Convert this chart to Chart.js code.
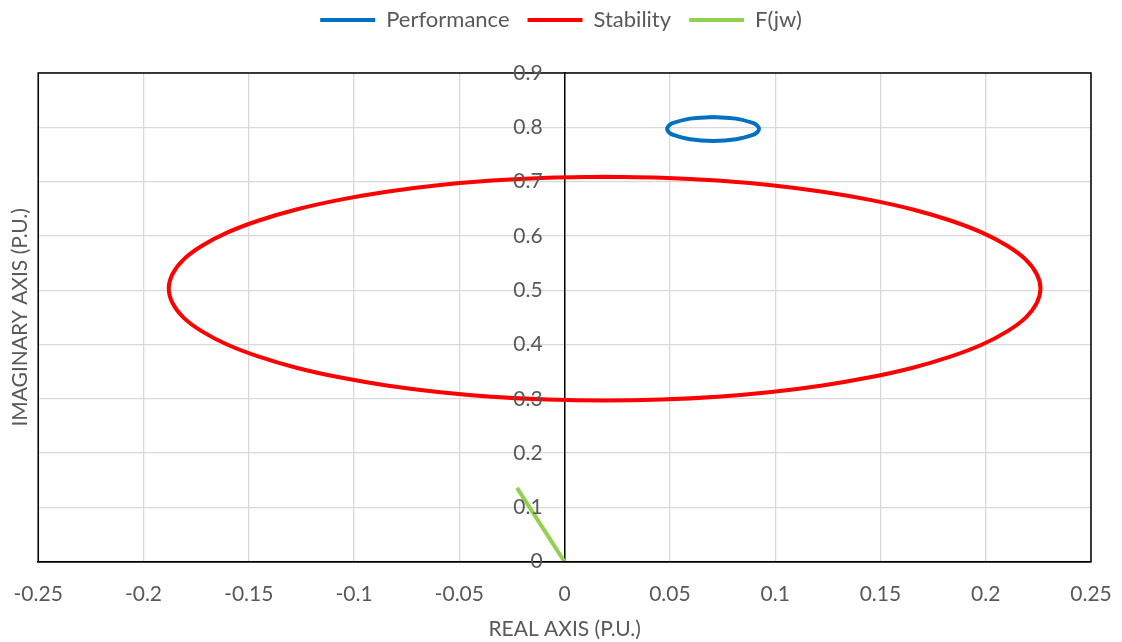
<!DOCTYPE html>
<html>
<head>
<meta charset="utf-8">
<script src="https://cdn.jsdelivr.net/npm/chart.js@4"></script>
<style>
html,body{margin:0;padding:0;background:#fff;}
#wrap{width:1122px;height:642px;}
</style>
</head>
<body>
<div id="wrap"><canvas id="c" width="1122" height="642"></canvas></div>
<script>
// Series values
const performancePoints = [
  [0.0705,0.819],[0.0596,0.816],[0.0516,0.808],[0.0494,0.8027],[0.0487,0.797],[0.0494,0.7913],
  [0.0516,0.786],[0.0596,0.778],[0.0705,0.775],[0.0814,0.778],[0.0894,0.786],[0.0916,0.7913],
  [0.0923,0.797],[0.0916,0.8027],[0.0894,0.808],[0.0814,0.816],[0.0705,0.819]
];
const stabilityPoints = [
  [0.019,0.709],[-0.0080,0.7072],[-0.0346,0.702],[-0.0602,0.6933],[-0.0845,0.6814],[-0.1070,0.6664],
  [-0.1274,0.6487],[-0.1452,0.6284],[-0.1603,0.606],[-0.1722,0.5818],[-0.181,0.5564],[-0.1862,0.5299],
  [-0.188,0.503],[-0.1862,0.4761],[-0.181,0.4496],[-0.1722,0.4242],[-0.1603,0.400],[-0.1452,0.3776],
  [-0.1274,0.3573],[-0.1070,0.3396],[-0.0845,0.3246],[-0.0602,0.3127],[-0.0346,0.304],[-0.0080,0.2988],
  [0.019,0.297],[0.0460,0.2988],[0.0726,0.304],[0.0982,0.3127],[0.1225,0.3246],[0.1450,0.3396],
  [0.1654,0.3573],[0.1832,0.3776],[0.1983,0.400],[0.2102,0.4242],[0.219,0.4496],[0.2242,0.4761],
  [0.226,0.503],[0.2242,0.5299],[0.219,0.5564],[0.2102,0.5818],[0.1983,0.606],[0.1832,0.6284],
  [0.1654,0.6487],[0.1450,0.6664],[0.1225,0.6814],[0.0982,0.6933],[0.0726,0.702],[0.0460,0.7072],
  [0.019,0.709]
];
const fjwPoints = [[-0.0226,0.136],[-0.0113,0.068],[0,0]];
const seriesNames = ['Performance','Stability','F(jw)'];
const seriesColors = ['#0070C0','#FF0000','#92D050'];
const xTicks = [-0.25,-0.2,-0.15,-0.1,-0.05,0,0.05,0.1,0.15,0.2,0.25];
const yTicks = [0,0.1,0.2,0.3,0.4,0.5,0.6,0.7,0.8,0.9];
const xTitle = 'REAL AXIS (P.U.)';
const yTitle = 'IMAGINARY AXIS (P.U.)';

const FONT = 'Lato';
const TXT = '#595959';
const toXY = arr => arr.map(p => ({x:p[0], y:p[1]}));
const allSeries = [performancePoints, stabilityPoints, fjwPoints];

const borderPlugin = {
  id:'plotBorder',
  beforeInit(chart){
    const lg = chart.legend;
    if (lg) {
      const fit = lg.fit;
      lg.fit = function(){ fit.call(this); this.height += 32; };
    }
  },
  afterDraw(chart){
    const a = chart.chartArea, ctx = chart.ctx;
    ctx.save();
    ctx.strokeStyle = '#000';
    ctx.lineWidth = 1.5;
    ctx.strokeRect(a.left, a.top, a.right - a.left, a.bottom - a.top);
    // y tick labels placed left of the x = 0 axis line
    const xs = chart.scales.x, ys = chart.scales.y;
    const x0 = xs.getPixelForValue(0);
    ctx.font = '21px ' + FONT;
    ctx.fillStyle = TXT;
    ctx.textAlign = 'right';
    ctx.textBaseline = 'middle';
    yTicks.forEach(v => {
      ctx.fillText(String(+v.toFixed(1)), x0 - 22, ys.getPixelForValue(v));
    });
    ctx.restore();
  }
};

new Chart(document.getElementById('c'), {
  type:'scatter',
  data:{
    datasets: allSeries.map((pts,i)=>({
      label: seriesNames[i],
      data: toXY(pts),
      showLine:true,
      borderColor: seriesColors[i],
      backgroundColor: seriesColors[i],
      borderWidth: 4,
      pointRadius: 0,
      pointHoverRadius: 0,
      tension: i===2 ? 0 : 0.33,
      fill:false
    }))
  },
  options:{
    responsive:false,
    animation:false,
    layout:{padding:{left:0,right:0,top:-9,bottom:0}},
    plugins:{
      tooltip:{enabled:false},
      legend:{
        position:'top',
        labels:{
          font:{family:FONT,size:22},
          color:TXT,
          boxWidth:55,
          boxHeight:4,
          padding:18,
          generateLabels(chart){
            const items = Chart.defaults.plugins.legend.labels.generateLabels(chart);
            items.forEach(it=>{ it.lineWidth = 0; });
            return items;
          }
        }
      }
    },
    scales:{
      x:{
        type:'linear',
        min:-0.25, max:0.25,
        afterBuildTicks(s){ s.ticks = xTicks.map(v=>({value:v})); },
        afterFit(s){ s.paddingRight = 31; s.paddingLeft = 38; },
        grid:{color:'#D9D9D9', lineWidth:1.3, drawTicks:false},
        border:{color:'#000', width:1.5},
        ticks:{font:{family:FONT,size:21,lineHeight:2.67}, color:TXT, padding:4, maxRotation:0,
               callback:v=>String(+v.toFixed(2))},
        title:{display:true, text:xTitle, font:{family:FONT,size:21}, color:TXT, padding:{top:-9,bottom:0}}
      },
      y:{
        type:'linear',
        position:{x:0},
        min:0, max:0.9,
        afterBuildTicks(s){ s.ticks = yTicks.map(v=>({value:v})); },
        grid:{color:'#D9D9D9', lineWidth:1.3, drawTicks:false},
        border:{color:'#000', width:1.5},
        ticks:{display:false}
      },
      yT:{
        type:'linear',
        position:'left',
        min:0, max:0.9,
        grid:{display:false, drawTicks:false},
        border:{display:false},
        ticks:{display:false},
        title:{display:true, text:yTitle, font:{family:FONT,size:21}, color:TXT, padding:{top:8,bottom:5}}
      }
    }
  },
  plugins:[borderPlugin]
});
</script>
</body>
</html>
